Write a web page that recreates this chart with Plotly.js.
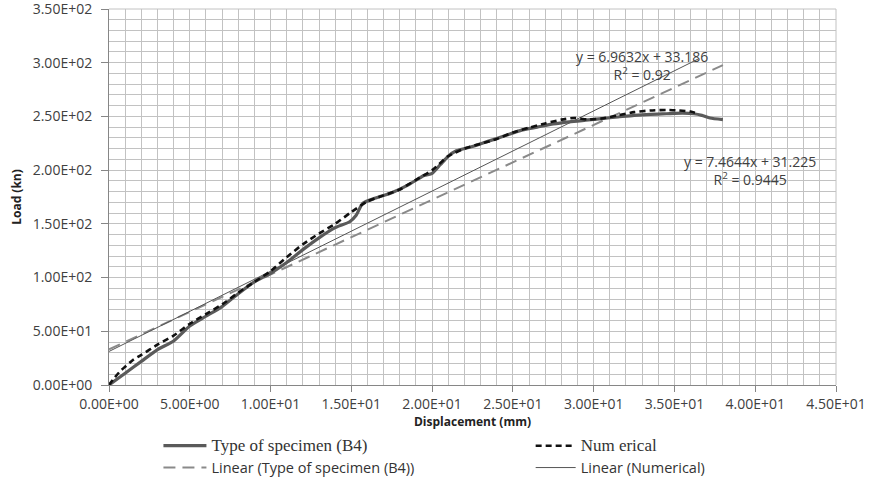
<!DOCTYPE html>
<html>
<head>
<meta charset="utf-8">
<script src="https://cdn.plot.ly/plotly-3.0.1.min.js"></script>
<style>html,body{margin:0;padding:0;background:#fff;}#chart{width:871px;height:477px;}</style>
</head>
<body>
<div id="chart"></div>
<script>
// Experimental curve: Type of specimen (B4)
var expX = [0, 1, 2, 3, 4, 5, 6, 7, 8, 9, 10, 11, 12, 13, 14, 14.9, 15.3, 15.7, 16.5, 17.5, 18.5, 19.5, 20, 20.5, 21, 21.5, 22.5, 23.5, 24.5, 25.5, 26.5, 27.5, 28.5, 29.5, 30.5, 31.5, 32.5, 33.5, 34.5, 35.5, 36.2, 36.7, 37.2, 38];
var expY = [0, 11, 22, 33, 41, 55, 64, 73, 85, 96, 104, 114, 126, 137, 146.5, 152, 158, 169, 174, 179, 186, 195, 197, 205, 213, 218, 222, 227, 232, 237, 240, 243, 245, 246.5, 248, 249.5, 251, 252, 252.5, 253, 252.5, 251, 248.5, 247];
// Numerical curve
var numX = [0, 0.3, 0.7, 1, 1.5, 2, 3, 4, 5, 6, 7, 8, 9, 10, 11, 12, 13, 14, 15, 16, 17, 18, 19, 20, 21, 22, 23, 24, 25, 26, 27, 28, 28.8, 29.6, 30.5, 31.5, 32.5, 33.5, 34.5, 35.3, 36, 36.5];
var numY = [0, 6, 13, 17, 23.5, 28, 37.5, 46, 57, 66, 75, 86, 96, 106, 119, 131, 141, 150, 161, 171, 176.5, 182, 191, 200, 213, 220, 224.5, 229, 235, 239.5, 243.5, 247, 248.6, 247.2, 248, 251, 254, 255.5, 256, 255.5, 254.5, 252.5];
// Linear trendlines (end points)
var linExpX = [0, 38];
var linExpY = [33.186, 297.79];
var linNumX = [0, 36.5];
var linNumY = [31.225, 303.68];
// Trendline labels
var eqExp = "y = 6.9632x + 33.186<br>R<sup>2</sup> = 0.92";
var eqNum = "y = 7.4644x + 31.225<br>R<sup>2</sup> = 0.9445";
// Series names
var nameExp = '<span style="font-family:Liberation Serif;font-size:17px">Type of specimen (B4)</span>';
var nameNum = '<span style="font-family:Liberation Serif;font-size:17px">Num erical</span>';
var nameLinExp = "Linear (Type of specimen (B4))";
var nameLinNum = "Linear (Numerical)";
// Ticks
var xTickVals = [0, 5, 10, 15, 20, 25, 30, 35, 40, 45];
var xTickText = ["0.00E+00", "5.00E+00", "1.00E+01", "1.50E+01", "2.00E+01", "2.50E+01", "3.00E+01", "3.50E+01", "4.00E+01", "4.50E+01"];
var yTickVals = [0, 50, 100, 150, 200, 250, 300, 350];
var yTickText = ["0.00E+00", "5.00E+01", "1.00E+02", "1.50E+02", "2.00E+02", "2.50E+02", "3.00E+02", "3.50E+02"];

var traces = [
  {x: linExpX, y: linExpY, mode: 'lines', name: nameLinExp, legend: 'legend', legendrank: 2,
   line: {color: '#8a8a8a', width: 2, dash: '12px,7px'}},
  {x: linNumX, y: linNumY, mode: 'lines', name: nameLinNum, legend: 'legend2', legendrank: 2,
   line: {color: '#555555', width: 1}},
  {x: expX, y: expY, mode: 'lines', name: nameExp, legend: 'legend', legendrank: 1,
   line: {color: '#5a5a5a', width: 3.2, shape: 'spline', smoothing: 0.6}},
  {x: numX, y: numY, mode: 'lines', name: nameNum, legend: 'legend2', legendrank: 1,
   line: {color: '#111111', width: 2.6, dash: '6px,4px', shape: 'spline', smoothing: 0.6}}
];

var gridC = '#c2c2c2';
var tickF = {family: 'Open Sans', size: 14, color: '#404040'};
var layout = {
  width: 871, height: 477,
  margin: {l: 109, r: 35, t: 9, b: 92},
  paper_bgcolor: '#ffffff', plot_bgcolor: '#ffffff',
  font: {family: 'Open Sans', size: 14, color: '#404040'},
  showlegend: true,
  xaxis: {
    range: [0, 45], tickvals: xTickVals, ticktext: xTickText,
    showgrid: true, gridcolor: gridC, gridwidth: 1,
    minor: {dtick: 1, showgrid: true, gridcolor: gridC, gridwidth: 1, ticks: ''},
    ticks: 'outside', ticklen: 6, tickcolor: '#868686', ticklabeloverflow: 'allow',
    showline: true, linecolor: '#868686', linewidth: 1, mirror: false,
    zeroline: false, tickfont: tickF,
    title: {text: '<b>Displacement (mm)</b>', font: {family: 'Open Sans', size: 12, color: '#222'}, standoff: 6}
  },
  yaxis: {
    range: [0, 350], tickvals: yTickVals, ticktext: yTickText,
    showgrid: true, gridcolor: gridC, gridwidth: 1,
    minor: {dtick: 10, showgrid: true, gridcolor: gridC, gridwidth: 1, ticks: ''},
    ticks: 'outside', ticklen: 7, tickcolor: '#868686', ticklabeloverflow: 'allow',
    ticklabelstandoff: 6,
    showline: true, linecolor: '#868686', linewidth: 1,
    zeroline: false, tickfont: tickF,
    title: {text: '<b>Load (kn)</b>', font: {family: 'Open Sans', size: 12, color: '#222'}, standoff: 8}
  },
  legend: {
    x: 0.068, xanchor: 'left', xref: 'paper', y: 0.099, yanchor: 'top', yref: 'container', orientation: 'v',
    itemwidth: 43, tracegroupgap: 0, bgcolor: 'rgba(0,0,0,0)',
    font: {family: 'Open Sans', size: 14.5, color: '#333'}
  },
  legend2: {
    x: 0.58, xanchor: 'left', xref: 'paper', y: 0.099, yanchor: 'top', yref: 'container', orientation: 'v',
    itemwidth: 40, tracegroupgap: 0, bgcolor: 'rgba(0,0,0,0)',
    font: {family: 'Open Sans', size: 14.5, color: '#333'}
  },
  shapes: [
    {type: 'line', xref: 'paper', yref: 'paper', x0: 0, x1: 1, y0: 1, y1: 1, line: {color: gridC, width: 1}},
    {type: 'line', xref: 'paper', yref: 'paper', x0: 1, x1: 1, y0: 0, y1: 1, line: {color: gridC, width: 1}}
  ],
  annotations: [
    {x: 33.0, y: 297, xref: 'x', yref: 'y', text: eqExp, showarrow: false, align: 'center',
     font: {family: 'Open Sans', size: 14, color: '#404040'}},
    {x: 39.7, y: 200, xref: 'x', yref: 'y', text: eqNum, showarrow: false, align: 'center',
     font: {family: 'Open Sans', size: 14, color: '#404040'}}
  ]
};

Plotly.newPlot('chart', traces, layout, {staticPlot: true, displayModeBar: false});
</script>
</body>
</html>
